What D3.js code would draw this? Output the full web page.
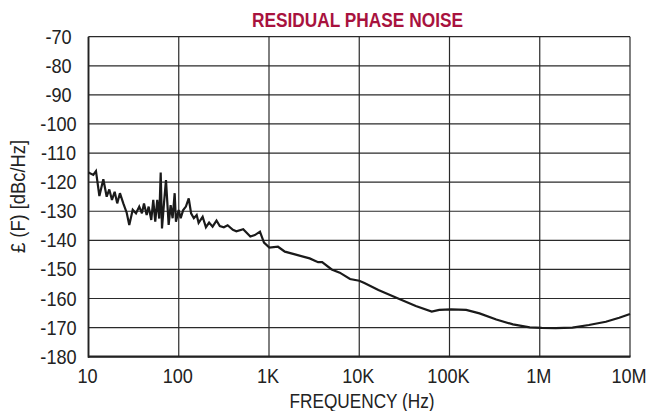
<!DOCTYPE html>
<html><head><meta charset="utf-8">
<script src="https://cdn.jsdelivr.net/npm/d3@7"></script>
<style>
html,body{margin:0;padding:0;background:#fff;}
svg{display:block;}
text{font-family:"Liberation Sans",Arial,Helvetica,sans-serif;}
</style></head>
<body><svg id="c" width="657" height="411"></svg>
<script>
const title = "RESIDUAL PHASE NOISE";
const xTitle = "FREQUENCY (Hz)";
const yTitle = "£ (F) [dBc/Hz]";
const xTickValues = [10, 100, 1e3, 1e4, 1e5, 1e6, 1e7];
const xTickLabels = ["10", "100", "1K", "10K", "100K", "1M", "10M"];
const yTickValues = [-70, -80, -90, -100, -110, -120, -130, -140, -150, -160, -170, -180];
const yTickLabels = ["-70", "-80", "-90", "-100", "-110", "-120", "-130", "-140", "-150", "-160", "-170", "-180"];
const freqHz = [10, 11.3, 12.1, 13.2, 14.6, 15.9, 17.0, 18.2, 19.5, 20.8, 22.3, 24.3, 26.5, 28.3, 30.9, 33.6, 36.5, 39.1, 41.2, 44.1, 46.4, 49.6, 52.2, 54.9, 57.8, 60.8, 63.1, 65.2, 68.6, 72.2, 77.3, 81.3, 85.5, 90.1, 93.1, 99.8, 105, 112, 120, 129, 137, 147, 158, 166, 184, 200, 217, 237, 262, 285, 316, 348, 398, 435, 518, 621, 697, 794, 880, 1010, 1258, 1500, 2030, 2820, 3500, 3880, 4950, 6080, 7900, 10000, 11400, 16300, 25800, 42300, 63500, 77000, 104000, 153000, 215000, 330000, 505000, 775000, 1.05e6, 1.5e6, 2.3e6, 3.5e6, 5.4e6, 7.6e6, 1e7];
const noiseDbc = [-116.7, -117.5, -116.2, -124.8, -119.0, -125.0, -122.5, -126.1, -123.3, -127.3, -123.8, -127.3, -130.5, -134.7, -129.5, -130.7, -128.4, -130.7, -127.3, -131.3, -128.4, -133.0, -126.1, -133.6, -126.1, -132.5, -116.7, -135.9, -127.3, -119.3, -134.7, -127.9, -132.4, -123.8, -133.6, -129.6, -132.4, -129.6, -128.4, -125.6, -130.7, -132.4, -131.3, -134.0, -131.9, -135.5, -133.9, -135.3, -133.2, -135.1, -135.5, -134.8, -136.4, -136.9, -136.2, -138.7, -138.2, -137.0, -140.8, -142.5, -142.2, -143.9, -145.0, -146.2, -147.5, -147.5, -150.0, -151.1, -153.3, -153.9, -154.7, -157.1, -159.7, -162.6, -164.5, -163.9, -163.7, -163.9, -165.1, -167.2, -168.9, -169.9, -170.1, -170.2, -170.0, -169.1, -168.0, -166.6, -165.3];

const svg = d3.select("#c");
const L = 88.5, R = 630, T = 36.7, B = 356.7;
const x = d3.scaleLog().domain([10, 1e7]).range([L, R]);
const y = d3.scaleLinear().domain([-180, -70]).range([B, T]);

const gridColor = "#2a2a2a";
svg.append("g").selectAll("line").data(yTickValues).join("line")
  .attr("x1", L).attr("x2", R)
  .attr("y1", d => y(d)).attr("y2", d => y(d))
  .attr("stroke", gridColor).attr("stroke-width", 1.2);
svg.append("g").selectAll("line").data(xTickValues).join("line")
  .attr("x1", d => x(d)).attr("x2", d => x(d))
  .attr("y1", T).attr("y2", B)
  .attr("stroke", gridColor).attr("stroke-width", 1.2);
svg.append("line").attr("x1", L).attr("x2", L).attr("y1", T).attr("y2", B + 1)
  .attr("stroke", "#222").attr("stroke-width", 1.8);
svg.append("line").attr("x1", L - 0.5).attr("x2", R + 0.5).attr("y1", B).attr("y2", B)
  .attr("stroke", "#222").attr("stroke-width", 2.2);

const sx = 0.93;
// y tick labels (centered column)
svg.append("g").selectAll("text").data(yTickValues).join("text")
  .attr("transform", d => `translate(58.5,${y(d)}) scale(${sx},1)`)
  .attr("dy", "0.36em").attr("text-anchor", "middle")
  .attr("font-size", 19.5).attr("fill", "#222")
  .text((d, i) => yTickLabels[i]);
// x tick labels
svg.append("g").selectAll("text").data(xTickValues).join("text")
  .attr("transform", d => `translate(${x(d) - 1},383.3) scale(${sx},1)`)
  .attr("text-anchor", "middle")
  .attr("font-size", 19.5).attr("fill", "#222")
  .text((d, i) => xTickLabels[i]);

const pts = freqHz.map((f, i) => [f, noiseDbc[i]]);
svg.append("path").datum(pts)
  .attr("fill", "none").attr("stroke", "#1a1a1a").attr("stroke-width", 2.2)
  .attr("stroke-linejoin", "miter").attr("stroke-miterlimit", 3)
  .attr("d", d3.line().x(d => x(d[0])).y(d => y(d[1])));

svg.append("text").attr("x", 357.5).attr("y", 26.5).attr("text-anchor", "middle")
  .attr("font-size", 20.5).attr("font-weight", "bold").attr("fill", "#a8123e")
  .attr("textLength", 211).attr("lengthAdjust", "spacingAndGlyphs")
  .text(title);
svg.append("text").attr("x", 362).attr("y", 407.5).attr("text-anchor", "middle")
  .attr("font-size", 19.5).attr("fill", "#222")
  .attr("textLength", 145).attr("lengthAdjust", "spacingAndGlyphs")
  .text(xTitle);
svg.append("text").attr("transform", "translate(25,196.5) rotate(-90)").attr("text-anchor", "middle")
  .attr("font-size", 19.5).attr("fill", "#222")
  .attr("textLength", 113).attr("lengthAdjust", "spacingAndGlyphs")
  .text(yTitle);
</script></body></html>
